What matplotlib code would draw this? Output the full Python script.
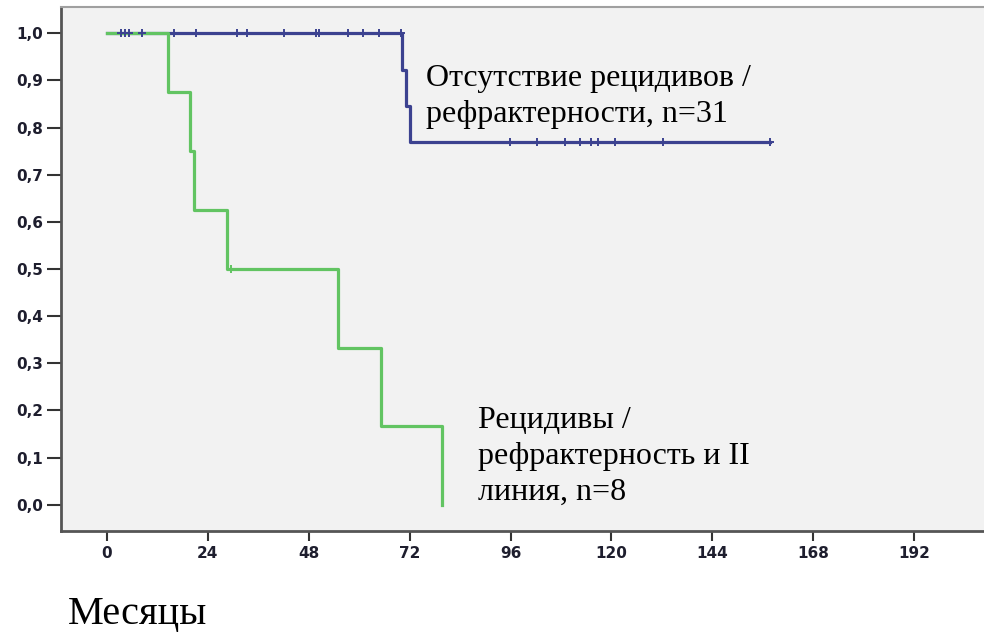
import matplotlib
matplotlib.use("Agg")
import matplotlib.pyplot as plt
import numpy as np

# months, 1 = event, 0 = censored
blue_times = [3.3, 3.3, 4.3, 5.2, 5.2, 8.3, 15.9, 21.2, 30.9, 33.3, 42.1, 49.7, 50.4,
              57.3, 60.8, 64.6, 64.6, 69.9, 70.3, 71.1, 72.0,
              95.9, 102.3, 109.0, 109.0, 112.6, 115.2, 116.9, 120.9, 132.4, 157.7]
blue_events = [0] * 18 + [1, 1, 1] + [0] * 10

green_times = [14.5, 19.8, 20.7, 28.6, 29.4, 55.0, 65.1, 79.7]
green_events = [1, 1, 1, 1, 0, 1, 1, 1]

xticks = [0, 24, 48, 72, 96, 120, 144, 168, 192]
yticks = [0.0, 0.1, 0.2, 0.3, 0.4, 0.5, 0.6, 0.7, 0.8, 0.9, 1.0]

label_blue = "Отсутствие рецидивов /\nрефрактерности, n=31"
label_green = "Рецидивы /\nрефрактерность и II\nлиния, n=8"
xlabel = "Месяцы"


def km(times, events):
    t = np.array(times, dtype=float)
    e = np.array(events)
    order = np.argsort(t, kind="stable")
    t, e = t[order], e[order]
    xs, ys = [0.0], [1.0]
    cx, cy = [], []
    s = 1.0
    n = len(t)
    for ut in np.unique(t):
        m = t == ut
        d = e[m].sum()
        c = (1 - e[m]).sum()
        if d > 0:
            s = s * (1 - d / n)
            xs.append(ut)
            ys.append(s)
        if c > 0:
            cx.append(ut)
            cy.append(s)
            if d == 0:
                xs.append(ut)
                ys.append(s)
        n -= m.sum()
    return xs, ys, cx, cy


blue = "#3c4290"
green = "#62c462"

fig = plt.figure(figsize=(9.84, 6.32), dpi=100)
ax = fig.add_axes([61 / 984, 1 - 531 / 632, (995 - 61) / 984, (531 - 7) / 632])
ax.set_facecolor("#f2f2f2")

bx, by, bcx, bcy = km(blue_times, blue_events)
gx, gy, gcx, gcy = km(green_times, green_events)

ax.step(bx, by, where="post", color=blue, lw=2.3, zorder=2)
ax.step(gx, gy, where="post", color=green, lw=2.3, zorder=3)
ax.plot(bcx, bcy, ls="none", marker="+", ms=6, mew=1.4, color=blue, zorder=4)
ax.plot(gcx, gcy, ls="none", marker="+", ms=6, mew=1.4, color=green, zorder=4)

# x range so that 0 lands at ~107px and 192 at ~914px
ppm = (914 - 107) / 192.0
ax.set_xlim((61 - 107) / ppm, (995 - 107) / ppm)
ppy = (504.7 - 33.3)
ax.set_ylim(-(531 - 504.7) / ppy, 1 + (33.3 - 7) / ppy)

ax.set_xticks(xticks)
ax.set_yticks(yticks)
ax.set_xticklabels([str(v) for v in xticks])
ax.set_yticklabels([f"{v:.1f}".replace(".", ",") for v in yticks])
for lab in ax.get_xticklabels() + ax.get_yticklabels():
    lab.set_fontweight("bold")
    lab.set_fontsize(11)
    lab.set_color("#1e1e2e")
ax.tick_params(axis="y", length=10, width=1.5, pad=3, color="#333333")
ax.tick_params(axis="x", length=7, width=1.5, pad=4, color="#333333")

ax.spines["left"].set_color("#555555")
ax.spines["left"].set_linewidth(2)
ax.spines["bottom"].set_color("#555555")
ax.spines["bottom"].set_linewidth(2)
ax.spines["top"].set_color("#a0a0a0")
ax.spines["top"].set_linewidth(1.5)
ax.spines["right"].set_visible(False)

fig.text(426 / 984, 1 - 64 / 632, label_blue, fontsize=23, family="Liberation Serif",
         va="top", ha="left", linespacing=1.32)
fig.text(478 / 984, 1 - 406 / 632, label_green, fontsize=23, family="Liberation Serif",
         va="top", ha="left", linespacing=1.32)
fig.text(68 / 984, 1 - 624 / 632, xlabel, fontsize=29, family="Liberation Serif",
         va="baseline", ha="left")

fig.savefig("out.png", dpi=100)
